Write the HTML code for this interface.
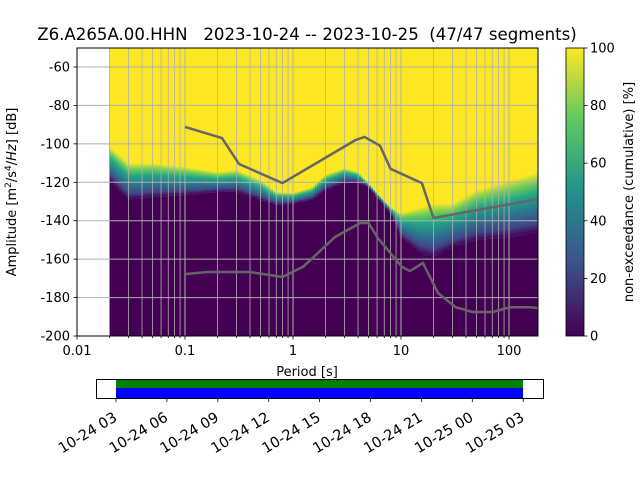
<!DOCTYPE html>
<html><head><meta charset="utf-8"><style>
body{margin:0;background:#fff;font-family:"Liberation Sans","DejaVu Sans",sans-serif}
svg text{font-family:"DejaVu Sans","Liberation Sans",sans-serif;fill:#000;white-space:pre}
</style></head><body>
<svg id="c" width="640" height="480" xmlns="http://www.w3.org/2000/svg">
<defs>
<linearGradient id="vir" x1="0" y1="0" x2="0" y2="1">
<stop offset="0" stop-color="#fde725"/><stop offset="0.15" stop-color="#7ad151"/><stop offset="0.35" stop-color="#22a884"/><stop offset="0.6" stop-color="#2a788e"/><stop offset="0.85" stop-color="#414487"/><stop offset="1" stop-color="#440154"/>
</linearGradient>
<linearGradient id="cbar" x1="0" y1="1" x2="0" y2="0">
<stop offset="0" stop-color="#440154"/><stop offset="0.25" stop-color="#3b528b"/><stop offset="0.5" stop-color="#21918c"/><stop offset="0.75" stop-color="#5ec962"/><stop offset="1" stop-color="#fde725"/>
</linearGradient>
<clipPath id="pc"><rect x="77" y="48" width="461" height="288"/></clipPath>
</defs>
<g id="plot" clip-path="url(#pc)"></g>
<g id="axes"></g>
</svg>
<script>
const periods=[0.02,0.03,0.05,0.1,0.2,0.3,0.5,0.7,1,1.5,2,3,4,5,6,8,10,15,20,30,50,100,186];
const upperDb=[-101.6,-110,-110,-112,-114.7,-113.6,-118.8,-125,-125.6,-122.5,-116,-112.6,-114.7,-120.4,-125.6,-133,-136,-133,-131,-131,-124,-119,-114.7];
const lowerDb=[-118.8,-129,-127.7,-126.6,-125,-125,-129,-131.8,-131,-129,-124,-120,-120,-122.5,-127.7,-136,-148.5,-156.8,-158.9,-153.7,-150,-148.5,-146];
const hiP=[0.1,0.22,0.316,0.8,3.8,4.6,6.4,8,15.6,20,186];
const hiDb=[-91.2,-97,-110.5,-120.4,-98,-96.4,-101,-113,-120.4,-138.6,-128.7];
const loP=[0.1,0.16,0.4,0.8,1.24,2.45,4.2,5,6.1,10.2,12.1,16,22,32,46,71,102,157,186];
const loDb=[-167.8,-166.7,-166.7,-169.3,-164,-148.5,-141.2,-141.2,-149,-164,-166.2,-162,-177.6,-185,-187.5,-187.5,-185,-185,-185.5];
const yTicks=[-60,-80,-100,-120,-140,-160,-180,-200];
const xTickLabels=["0.01","0.1","1","10","100"];
const cbTicks=[0,20,40,60,80,100];
const timeLabels=["10-24 03","10-24 06","10-24 09","10-24 12","10-24 15","10-24 18","10-24 21","10-25 00","10-25 03"];

const NS="http://www.w3.org/2000/svg";
const X=p=>293+108*Math.log10(p);
const Y=d=>67+(-60-d)*(269/140);
function mk(tag,at,parent){const e=document.createElementNS(NS,tag);for(const k in at)e.setAttribute(k,at[k]);parent.appendChild(e);return e;}
const plot=document.getElementById('plot'),axes=document.getElementById('axes'),svg=document.getElementById('c');
function interp(ps,vs,p){const lp=Math.log10(p);if(p<=ps[0])return vs[0];for(let i=1;i<ps.length;i++){if(p<=ps[i]){const a=Math.log10(ps[i-1]),b=Math.log10(ps[i]);return vs[i-1]+(vs[i]-vs[i-1])*(lp-a)/(b-a);}}return vs[vs.length-1];}
const x0=X(periods[0]);
for(let x=Math.floor(x0);x<538;x+=2){
  const p=Math.pow(10,(x+1-293)/108);
  const u=Y(interp(periods,upperDb,p)),l=Y(interp(periods,lowerDb,p));
  let r=mk('rect',{x:x,y:48,width:2.3,height:u-48+0.5,fill:'#fde725'},plot);
  
  
  r=mk('rect',{x:x,y:u,width:2.3,height:Math.max(l-u,0.5),fill:'url(#vir)'},plot);
  
  
  r=mk('rect',{x:x,y:l,width:2.3,height:336-l,fill:'#440154'},plot);
  
  
}
for(let d=-2;d<=2;d++){for(let m=1;m<=9;m++){const p=m*Math.pow(10,d);const x=X(p);if(x>538)break;
  const g=mk('line',{x1:x,x2:x,y1:48,y2:336,stroke:'#b0b0b0','stroke-width':m==1?1:0.8},plot);
  
  
  const t=mk('line',{x1:x,x2:x,y1:336,y2:m==1?339.5:338,stroke:'#000','stroke-width':0.8},axes);
  
  
}}
yTicks.forEach(v=>{const y=Y(v);
  const g=mk('line',{x1:77,x2:538,y1:y,y2:y,stroke:'#b0b0b0','stroke-width':1},plot);
  
  
  const t=mk('line',{x1:73.5,x2:77,y1:y,y2:y,stroke:'#000','stroke-width':0.8},axes);
  
  
  const tx=mk('text',{x:70,y:y+4.5,'text-anchor':'end','font-size':'13'},axes);tx.textContent=v;
  
  
});
xTickLabels.forEach((s,i)=>{const x=X(Math.pow(10,i-2));
  const tx=mk('text',{x:x,y:355,'text-anchor':'middle','font-size':'13'},axes);tx.textContent=s;
  
  
});
function line(ps,ds,name){const pts=ps.map((p,i)=>X(p).toFixed(1)+','+Y(ds[i]).toFixed(1)).join(' ');
  const l=mk('polyline',{points:pts,fill:'none',stroke:'#666','stroke-width':2.5,'stroke-linejoin':'round'},plot);
  
  }
line(hiP,hiDb,'high-noise-model-line');
line(loP,loDb,'low-noise-model-line');
let fr=mk('rect',{x:77,y:48,width:461,height:288,fill:'none',stroke:'#000','stroke-width':1},axes);


let cb=mk('rect',{x:566,y:48,width:18,height:288,fill:'url(#cbar)',stroke:'#000','stroke-width':0.8},axes);


cbTicks.forEach(v=>{const y=336-v*2.88;
  const t=mk('line',{x1:584,x2:587.5,y1:y,y2:y,stroke:'#000','stroke-width':0.8},axes);
  
  
  const tx=mk('text',{x:590,y:y+4.5,'font-size':'13'},axes);tx.textContent=v;
  
  
});
let tb=mk('rect',{x:96.5,y:379.5,width:447,height:19,fill:'#fff',stroke:'#000','stroke-width':1},axes);


let gb=mk('rect',{x:116,y:380,width:407,height:8,fill:'#008000'},axes);


let bb=mk('rect',{x:116,y:388,width:407,height:10,fill:'#0000ff'},axes);


timeLabels.forEach((s,i)=>{const x=116+i*50.9;
  const t=mk('line',{x1:x,x2:x,y1:398,y2:402,stroke:'#000','stroke-width':0.8},axes);
  
  
  const ax=x+2,ay=420;
  const tx=mk('text',{x:ax,y:ay,'text-anchor':'end','font-size':'14.5',transform:`rotate(-31 ${ax} ${ay})`},axes);tx.textContent=s;
  
  
});
</script>
<svg width="640" height="480" style="position:absolute;left:0;top:0" xmlns="http://www.w3.org/2000/svg">
<text x="307" y="40" text-anchor="middle" font-size="16.6" xml:space="preserve">Z6.A265A.00.HHN   2023-10-24 -- 2023-10-25  (47/47 segments)</text>
<text x="307" y="376" text-anchor="middle" font-size="13">Period [s]</text>
<text transform="translate(16 192) rotate(-90)" text-anchor="middle" font-size="13">Amplitude [m<tspan font-size="9" dy="-5">2</tspan><tspan dy="5">/s</tspan><tspan font-size="9" dy="-5">4</tspan><tspan dy="5">/</tspan><tspan font-style="italic">Hz</tspan>] [dB]</text>
<text transform="translate(633 192) rotate(-90)" text-anchor="middle" font-size="13">non-exceedance (cumulative) [%]</text>
</svg>
</body></html>
